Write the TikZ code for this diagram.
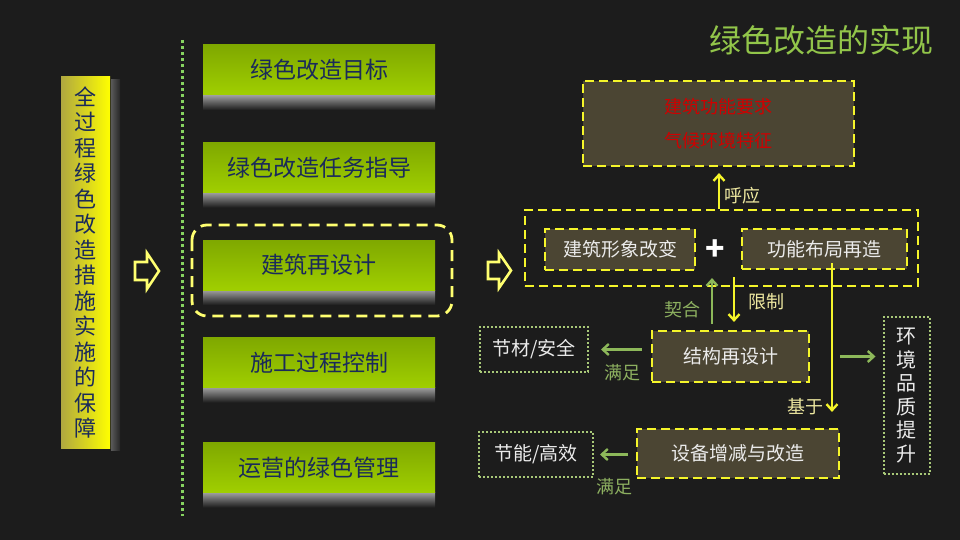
\documentclass[tikz,border=0pt]{standalone}
\usepackage{fontspec}
\setmainfont{Noto Sans CJK SC}
\usetikzlibrary{arrows.meta,calc}
\definecolor{bg}{HTML}{1C1C1C}
\definecolor{titlegreen}{HTML}{92C54A}
\definecolor{navy}{HTML}{1A2A5A}
\definecolor{gtop}{HTML}{7FA800}
\definecolor{gbot}{HTML}{A0CF00}
\definecolor{boxbrown}{HTML}{4B4533}
\definecolor{dashyellow}{HTML}{F5F52A}
\definecolor{paleyellow}{HTML}{FFFF70}
\definecolor{arrowgreen}{HTML}{8DB85A}
\definecolor{dotgreen}{HTML}{A8C878}
\definecolor{labelyellow}{HTML}{EEE8A0}
\definecolor{labelgreen}{HTML}{8DB060}
\definecolor{redtext}{HTML}{D00000}
\definecolor{olive}{HTML}{B0A840}
\tikzset{
  greenbox/.style={top color=gtop, bottom color=gbot, minimum width=232pt, minimum height=50pt,
    inner sep=0pt, text=navy, font=\fontsize{23}{26}\selectfont},
  brownbox/.style={draw=dashyellow, fill=boxbrown, line width=2.2pt, dash pattern=on 9pt off 5pt,
    inner sep=0pt, text=white!92!black, font=\fontsize{19}{22}\selectfont},
  dotbox/.style={draw=dotgreen, line width=2pt, dash pattern=on 2pt off 2pt, inner sep=0pt,
    text=white!92!black, font=\fontsize{19}{22}\selectfont},
  yarrow/.style={draw=dashyellow, line width=2.4pt, -{Straight Barb[length=6pt,width=11pt]}},
  garrow/.style={draw=arrowgreen, line width=2.4pt, -{Straight Barb[length=6pt,width=11pt]}},
  lbl/.style={font=\fontsize{18}{20}\selectfont, inner sep=0pt},
  blockarrow/.style={draw=paleyellow, fill=bg, line width=2.6pt, line join=miter}
}
\begin{document}
\begin{tikzpicture}[x=1pt,y=-1pt]
\fill[bg] (0,0) rectangle (960,540);
\useasboundingbox (0,0) rectangle (960,540);

% title
\node[text=titlegreen, font=\fontsize{32}{36}\selectfont, inner sep=0pt] (title) at (821,40) {绿色改造的实现};

% left vertical bar
\shade[left color=gray!70!black, right color=gray!30!black] (111,80) rectangle (120,450);
\node[left color=olive, right color=yellow, minimum width=49pt, minimum height=371pt, inner sep=0pt,
  text=navy, align=center, font=\fontsize{22}{25.5}\selectfont] (bar) at (85.5,262.5)
  {全\\过\\程\\绿\\色\\改\\造\\措\\施\\实\\施\\的\\保\\障};

% left block arrow
\draw[blockarrow] (135,262) -- (147,262) -- (147,253) -- (159,271) -- (147,289) -- (147,280) -- (135,280) -- cycle;

% dotted separator
\coordinate (sepTop) at (182,40);
\coordinate (sepBot) at (182,516);
\draw[dotgreen!80!green, line width=3pt, dash pattern=on 3pt off 3pt] (sepTop) -- (sepBot);

% green boxes with reflections
\foreach \name/\yc/\txt in {g1/70/绿色改造目标, g2/167.5/绿色改造任务指导, g3/265/建筑再设计, g4/362.5/施工过程控制, g5/467.5/运营的绿色管理}{
  \shade[top color=gray!75, bottom color=bg] (203,\yc+25) rectangle (435,\yc+40);
  \node[greenbox] (\name) at (319,\yc) {\txt};
}
% dashed highlight around g3
\draw[paleyellow, line width=2.8pt, dash pattern=on 11pt off 7pt, rounded corners=15pt]
  (192,225) rectangle (452,316);

% right block arrow
\draw[blockarrow] (488,262) -- (499,262) -- (499,253) -- (511,270.5) -- (499,288) -- (499,279) -- (488,279) -- cycle;

% right-hand diagram
\node[brownbox, minimum width=271pt, minimum height=85pt, text=redtext, align=center,
  font=\fontsize{18}{34}\selectfont] (req) at (718.5,123.5) {建筑功能要求\\气候环境特征};
\node[draw=dashyellow, line width=2.2pt, dash pattern=on 9pt off 5pt, minimum width=393pt,
  minimum height=76pt, inner sep=0pt] (big) at (721.5,248) {};
\node[brownbox, minimum width=150pt, minimum height=41pt] (xx) at (620,249.5) {建筑形象改变};
\node[text=white, font=\fontsize{32}{32}\selectfont\bfseries, inner sep=0pt] (plus) at (715,250) {+};
\node[brownbox, minimum width=165pt, minimum height=40pt] (gn) at (824.5,249) {功能布局再造};
\node[brownbox, minimum width=157pt, minimum height=51pt] (jg) at (730.5,356.5) {结构再设计};
\node[dotbox, minimum width=108pt, minimum height=45pt] (jc) at (534,349.5) {节材/安全};
\node[dotbox, minimum width=46pt, minimum height=157pt, align=center,
  font=\fontsize{20}{23.5}\selectfont] (hj) at (906.5,395.5) {环\\境\\品\\质\\提\\升};
\node[brownbox, minimum width=202pt, minimum height=49pt] (sb) at (738,453.5) {设备增减与改造};
\node[dotbox, minimum width=114pt, minimum height=45pt] (jn) at (536,454.5) {节能/高效};

% helper x positions
\coordinate (xa) at (719,0);
\coordinate (xb) at (712,0);
\coordinate (xc) at (734,0);
\coordinate (xd) at (832,0);

% connectors
\draw[yarrow, shorten >=6pt] (big.north -| xa) -- (req.south -| xa);
\draw[garrow, shorten <=6pt, shorten >=-9pt] (jg.north -| xb) -- (big.south -| xb);
\draw[yarrow, shorten <=-10pt, shorten >=8pt] (big.south -| xc) -- (jg.north -| xc);
\draw[garrow, shorten <=9pt, shorten >=12pt] (jg.west |- jc.east) -- (jc.east);
\draw[garrow, shorten <=30pt, shorten >=7pt] (jg.east) -- (hj.west |- jg.east);
\draw[yarrow, shorten <=-7pt, shorten >=16pt] (gn.south -| xd) -- (sb.north -| xd);
\draw[garrow, shorten <=8pt, shorten >=6pt] (sb.west |- jn.east) -- (jn.east);

% labels
\node[lbl, text=labelyellow] (lhy) at (742,196) {呼应};
\node[lbl, text=labelgreen] (lqh) at (682,310) {契合};
\node[lbl, text=labelyellow] (lxz) at (766,302) {限制};
\node[lbl, text=labelgreen] (lmz1) at (622,373) {满足};
\node[lbl, text=labelyellow] (ljy) at (805,407) {基于};
\node[lbl, text=labelgreen] (lmz2) at (614,487) {满足};
\end{tikzpicture}
\end{document}
